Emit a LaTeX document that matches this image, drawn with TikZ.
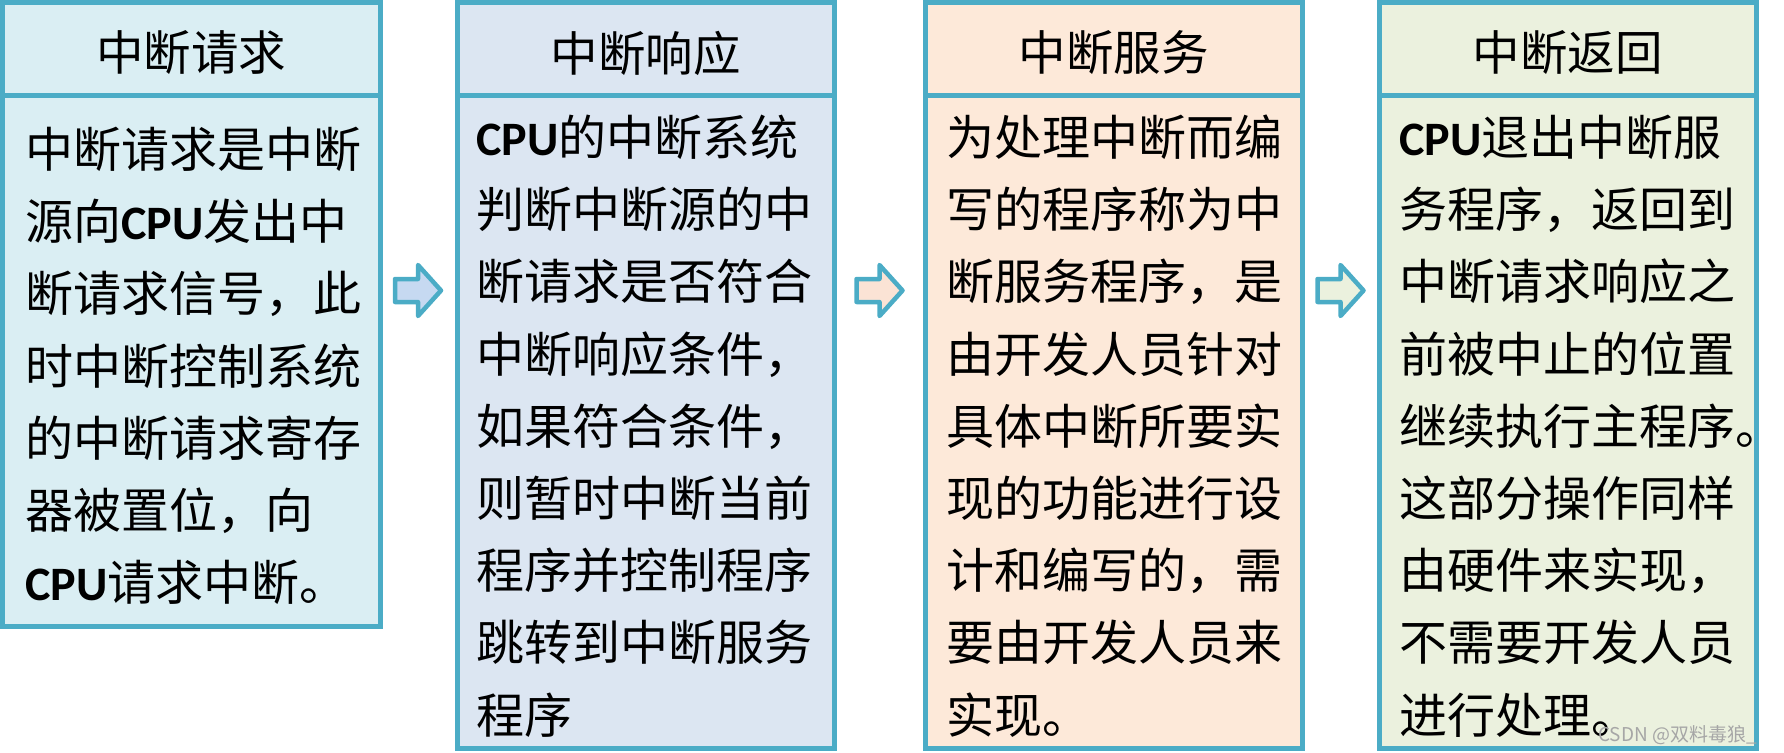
\documentclass[tikz,border=0pt]{standalone}
\usepackage{fontspec}
\setmainfont{Noto Sans CJK SC}
\newfontfamily\carlitofont{Carlito}
\newcommand\cpuword{{\carlitofont\bfseries CPU}}
\definecolor{bd}{HTML}{4BACC6}
\definecolor{fa}{HTML}{DAEEF3}
\definecolor{fb}{HTML}{DCE6F2}
\definecolor{fc}{HTML}{FDE9D9}
\definecolor{fd}{HTML}{EBF1DE}
\definecolor{ara}{HTML}{C6D9F1}
\definecolor{arb}{HTML}{FBE3D5}
\definecolor{arc}{HTML}{EBF1DE}
\begin{document}
\begin{tikzpicture}[x=1pt,y=-1pt,
  frame/.style={draw=bd, line width=5pt, inner sep=0pt, outer sep=0pt, anchor=north west, minimum width=377.5pt},
  headtext/.style={inner sep=0pt, anchor=center, font=\fontsize{47.5pt}{56pt}\selectfont},
  bodytext/.style={inner sep=0pt, anchor=west, align=left, font=\fontsize{48pt}{72.2pt}\selectfont},
  barrow/.style={draw=bd, line width=4.5pt, line join=round}]
\useasboundingbox (0,0) rectangle (1784,752);
% frames
\node[frame, fill=fa, minimum height=531.5pt] (b1) at (2.5,95) {};
\node[frame, fill=fa, minimum height=92.5pt] (h1) at (2.5,2.5) {};
\node[frame, fill=fb, minimum height=653pt] (b2) at (457,95) {};
\node[frame, fill=fb, minimum height=92.5pt] (h2) at (457,2.5) {};
\node[frame, fill=fc, minimum height=653pt] (b3) at (925,95) {};
\node[frame, fill=fc, minimum height=92.5pt] (h3) at (925,2.5) {};
\node[frame, fill=fd, minimum height=653pt] (b4) at (1379,95) {};
\node[frame, fill=fd, minimum height=92.5pt] (h4) at (1379,2.5) {};
% headers
\node[headtext] (t1) at (191.25,53) {中断请求};
\node[headtext] (t2) at (645.75,53) {中断响应};
\node[headtext] (t3) at (1113.75,53) {中断服务};
\node[headtext] (t4) at (1567.75,53) {中断返回};
% bodies
\node[bodytext] (p1) at (25,366) {中断请求是中断\\源向\cpuword 发出中\\断请求信号，此\\时中断控制系统\\的中断请求寄存\\器被置位，向\\\cpuword 请求中断。};
\node[bodytext] (p2) at (476,426) {\cpuword 的中断系统\\判断中断源的中\\断请求是否符合\\中断响应条件，\\如果符合条件，\\则暂时中断当前\\程序并控制程序\\跳转到中断服务\\程序};
\node[bodytext] (p3) at (946,426) {为处理中断而编\\写的程序称为中\\断服务程序，是\\由开发人员针对\\具体中断所要实\\现的功能进行设\\计和编写的，需\\要由开发人员来\\实现。};
\node[bodytext] (p4) at (1399,426) {\cpuword 退出中断服\\务程序，返回到\\中断请求响应之\\前被中止的位置\\继续执行主程序。\\这部分操作同样\\由硬件来实现，\\不需要开发人员\\进行处理。};
% arrows
\coordinate (a1) at (395,290.5);
\coordinate (a2) at (856.5,290.5);
\coordinate (a3) at (1317.5,290.5);
\foreach \c/\f in {a1/ara,a2/arb,a3/arc}{
  \draw[barrow, fill=\f] ([shift={(0,-11.5)}]\c) -- ++(23,0) -- ++(0,-14) -- ++(23,25.5) -- ++(-23,25.5) -- ++(0,-14) -- ++(-23,0) -- cycle;
}
% watermark
\node[anchor=east, inner sep=0pt, text=gray!70, font=\fontsize{19pt}{22pt}\selectfont] (wm) at (1757,735) {CSDN @双料毒狼\_};
\end{tikzpicture}
\end{document}
